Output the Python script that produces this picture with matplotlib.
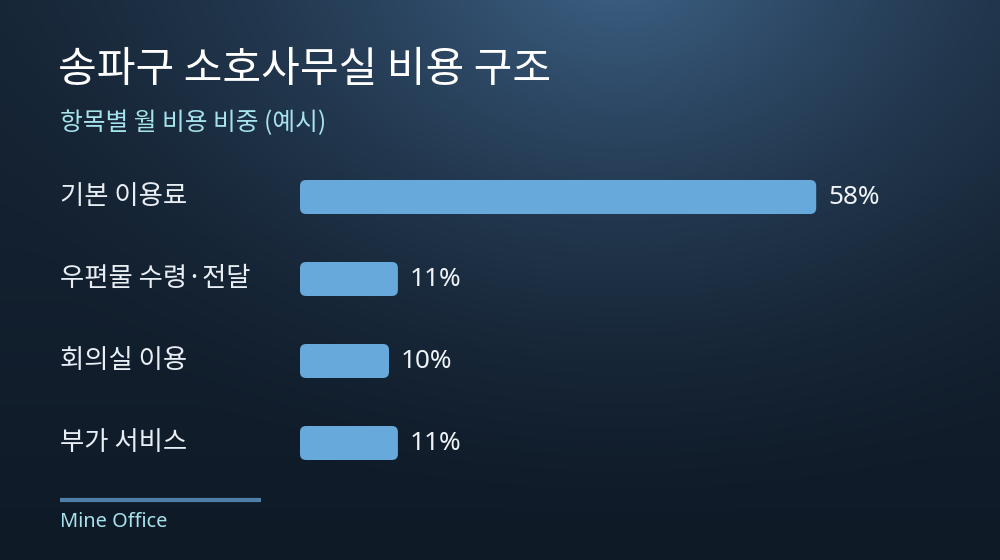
import matplotlib
matplotlib.use("Agg")
import matplotlib.pyplot as plt
import matplotlib.transforms as mtrans
from matplotlib.patches import FancyBboxPatch
import numpy as np

plt.rcParams['font.family'] = ['Noto Sans CJK KR', 'DejaVu Sans']

title = "송파구 소호사무실 비용 구조"
subtitle = "항목별 월 비용 비중 (예시)"
categories = ["기본 이용료", "우편물 수령·전달", "회의실 이용", "부가 서비스"]
values = [58, 11, 10, 11]
source = "Mine Office"

W, H = 1000, 560
fig = plt.figure(figsize=(10, 5.6), dpi=100)

# background: dark navy with a soft glow near the top centre
bg = fig.add_axes([0, 0, 1, 1])
bg.set_xlim(0, W)
bg.set_ylim(H, 0)
bg.axis("off")
yy, xx = np.mgrid[0:H, 0:W]
d = np.sqrt(((xx - 620) / 1.25) ** 2 + (yy + 40) ** 2)
glow = np.clip(1 - d / 560, 0, 1) ** 1.6
base = np.array([15, 26, 39]) / 255.0
top = np.array([62, 98, 135]) / 255.0
vert = (1 - yy / H)[..., None] * 0.15
img = base + (top - base) * (glow[..., None] * 0.85 + vert)
bg.imshow(np.clip(img, 0, 1), extent=[0, W, H, 0], aspect="auto", zorder=0)

bg.text(58, 70, title, color="white", fontsize=30.3, va="center", ha="left")
bg.text(60, 123, subtitle, color="#a6e3ec", fontsize=17.8, va="center", ha="left")
bg.plot([60, 261], [500, 500], color="#4f7fa9", lw=3, solid_capstyle="butt")
bg.text(60, 522, source, color="#a6e3ec", fontsize=14.4, va="center", ha="left",
        family=['Noto Sans', 'DejaVu Sans'])

# bar area: starts at x=300px, 8.9 px per percent, rows 82 px apart
px_per_pct = 8.9
row_px = 82
ax = fig.add_axes([0.3, 0, 0.7, 1])
ax.patch.set_alpha(0)
ax.axis("off")
ax.set_xlim(0, 700 / px_per_pct)
ax.set_ylim((H - 197) / row_px, -197 / row_px)

bar_h = 34 / row_px
rad = 6 / px_per_pct
for i, v in enumerate(values):
    p = FancyBboxPatch((0, i - bar_h / 2), v, bar_h,
                       boxstyle="round,pad=0,rounding_size=%f" % rad,
                       mutation_aspect=px_per_pct / row_px,
                       fc="#67a9db", ec="none", zorder=3)
    ax.add_patch(p)
    ax.text(v + 12 / px_per_pct, i, "%d%%" % v, color="#f0f4f8", fontsize=18.8,
            va="center", ha="left", family=['Noto Sans', 'DejaVu Sans'])

lab_tr = mtrans.blended_transform_factory(fig.transFigure, ax.transData)
for i, c in enumerate(categories):
    ax.text(0.06, i, c, transform=lab_tr, color="#e8eef4", fontsize=19,
            va="center", ha="left")

fig.savefig("out.png", dpi=100)
